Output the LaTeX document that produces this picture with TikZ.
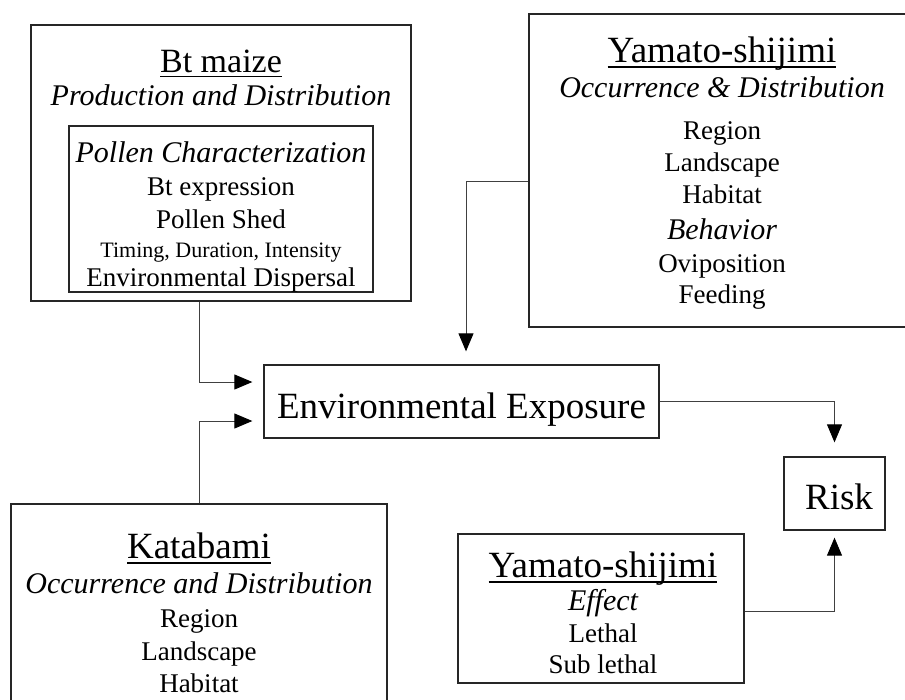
\documentclass[tikz,border=0pt]{standalone}
\usepackage{fontspec}
\setmainfont{Liberation Serif}
\usetikzlibrary{arrows.meta}

\newcommand{\fsz}[1]{\fontsize{#1}{#1}\selectfont}
\newcommand{\titleline}[1]{\setbox0=\hbox{#1}\rlap{\copy0}\rule[-0.16em]{\wd0}{0.055em}}

\tikzset{
	box/.style={draw=black!85,line width=1.3pt,fill=none},
	txt/.style={anchor=base,inner sep=0pt},
	conn/.style={draw=black!75,line width=0.9pt,-{Triangle[length=18pt,width=15pt,color=black]}}
}

\begin{document}
\begin{tikzpicture}[x=1pt,y=-1pt]
	\useasboundingbox (0,0) rectangle (905,699);

	\node[box,minimum width=380pt,minimum height=276pt] (btmaize) at (221,163) {};
	\node[txt] (btname) at (221,72) {\fsz{34}\titleline{Bt maize}};
	\node[txt] (btprod) at (221,105) {\fsz{30}\itshape Production and Distribution};
	\node[box,minimum width=304pt,minimum height=166pt] (pollen) at (221,209) {};
	\node[txt] (polchar) at (221,162) {\fsz{30}\itshape Pollen Characterization};
	\node[txt] (btexpr) at (221,195) {\fsz{27}Bt expression};
	\node[txt] (polshed) at (221,228) {\fsz{27}Pollen Shed};
	\node[txt] (timing) at (221,257) {\fsz{22}Timing, Duration, Intensity};
	\node[txt] (envdisp) at (221,286) {\fsz{27}Environmental Dispersal};

	\node[box,minimum width=386pt,minimum height=313pt] (yamaocc) at (722,170.5) {};
	\node[txt] (yoname) at (722,62) {\fsz{37}\titleline{Yamato-shijimi}};
	\node[txt] (yoocc) at (722,97) {\fsz{30}\itshape Occurrence \& Distribution};
	\node[txt] (yoreg) at (722,139) {\fsz{27}Region};
	\node[txt] (yoland) at (722,171) {\fsz{27}Landscape};
	\node[txt] (yohab) at (722,203) {\fsz{27}Habitat};
	\node[txt] (yobeh) at (722,239) {\fsz{30}\itshape Behavior};
	\node[txt] (yoovi) at (722,272) {\fsz{27}Oviposition};
	\node[txt] (yofeed) at (722,303) {\fsz{27}Feeding};

	\node[box,minimum width=395pt,minimum height=73pt] (exposure) at (461.5,401.5) {};
	\node[txt] (exptext) at (461.5,418) {\fsz{37}Environmental Exposure};

	\node[box,minimum width=101pt,minimum height=73pt] (risk) at (834.5,493.5) {};
	\node[txt] (risktext) at (839,509) {\fsz{37}Risk};

	\node[box,minimum width=376pt,minimum height=226pt] (katabami) at (199,617) {};
	\node[txt] (kname) at (199,558) {\fsz{37}\titleline{Katabami}};
	\node[txt] (kocc) at (199,593) {\fsz{30}\itshape Occurrence and Distribution};
	\node[txt] (kreg) at (199,627) {\fsz{27}Region};
	\node[txt] (kland) at (199,660) {\fsz{27}Landscape};
	\node[txt] (khab) at (199,692) {\fsz{27}Habitat};

	\node[box,minimum width=286pt,minimum height=149pt] (yamaeff) at (601,608.5) {};
	\node[txt] (yename) at (603,577) {\fsz{37}\titleline{Yamato-shijimi}};
	\node[txt] (yeeff) at (603,610) {\fsz{30}\itshape Effect};
	\node[txt] (yeleth) at (603,642) {\fsz{27}Lethal};
	\node[txt] (yesub) at (603,673) {\fsz{27}Sub lethal};

	\draw[conn,shorten >=11pt] (btmaize.south -| katabami.north) |- ([yshift=19.5pt]exposure.west);
	\draw[conn,shorten >=11pt] (katabami.north) |- ([yshift=-19.5pt]exposure.west);
	\draw[conn,shorten >=13pt] ([yshift=-10.5pt]yamaocc.west) -| ([xshift=4.5pt]exposure.north);
	\draw[conn,shorten >=14pt] (exposure.east) -| (risk.north);
	\draw[conn,shorten >=7pt] ([yshift=-2.5pt]yamaeff.east) -| (risk.south);
\end{tikzpicture}
\end{document}
